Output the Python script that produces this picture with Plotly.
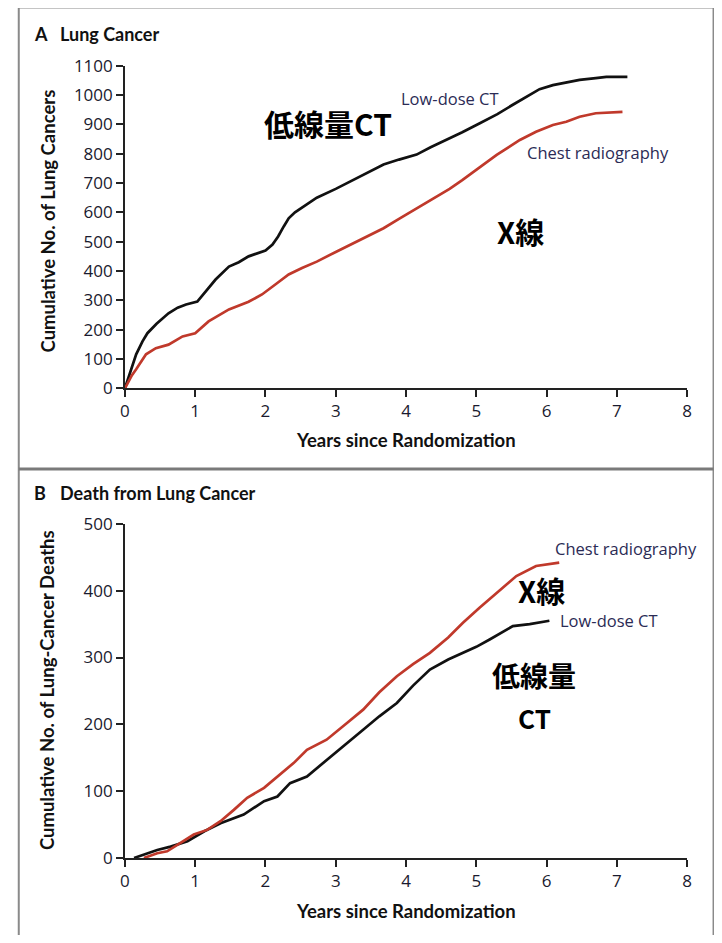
import plotly.graph_objects as go

# page body keeps a default 8px margin, so the figure is 16px smaller than the window
OFF = 8
W, H = 722 - 2 * OFF, 943 - 2 * OFF

# ---------------- data ----------------
years_ct_a = [0, 0.05, 0.1, 0.16, 0.25, 0.32, 0.45, 0.62, 0.75, 0.87, 1.03, 1.15, 1.29, 1.48, 1.62, 1.76, 1.9, 2.0, 2.1,
              2.18, 2.26, 2.33, 2.42, 2.52, 2.73, 3.0, 3.21, 3.45, 3.68, 3.9, 4.15, 4.35, 4.58, 4.8, 5.05, 5.3, 5.52,
              5.76, 5.9, 6.09, 6.3, 6.47, 6.7, 6.85, 7.15]
cases_ct_a = [0, 35, 70, 116, 160, 188, 220, 256, 275, 286, 296, 330, 371, 415, 430, 450, 462, 470, 490,
              518, 552, 580, 600, 616, 650, 680, 705, 735, 763, 780, 797, 822, 848, 873, 904, 935, 967,
              1000, 1020, 1034, 1045, 1052, 1058, 1062, 1062]

years_xr_a = [0, 0.05, 0.1, 0.16, 0.25, 0.3, 0.44, 0.62, 0.82, 1.0, 1.19, 1.48, 1.76, 1.95, 2.14, 2.33, 2.52, 2.73,
              3.0, 3.21, 3.45, 3.68, 3.9, 4.15, 4.4, 4.62, 4.8, 5.0, 5.29, 5.62, 5.85, 6.09, 6.28, 6.47, 6.7, 7.08]
cases_xr_a = [0, 25, 45, 65, 100, 116, 137, 149, 177, 188, 228, 269, 295, 320, 354, 388, 410, 432,
              465, 490, 518, 546, 578, 614, 648, 680, 710, 745, 796, 847, 875, 898, 909, 926, 938, 943]

years_ct_b = [0.13, 0.46, 0.65, 0.89, 1.13, 1.36, 1.69, 1.98, 2.17, 2.35, 2.59, 2.87, 3.16, 3.39, 3.62, 3.87, 4.1,
              4.34, 4.6, 4.81, 5.0, 5.19, 5.52, 5.76, 6.04]
deaths_ct_b = [0, 12, 17, 25, 40, 52, 65, 85, 92, 112, 122, 147, 172, 192, 212, 232, 258,
               282, 297, 307, 316, 327, 347, 350, 355]

years_xr_b = [0.27, 0.46, 0.6, 0.79, 0.98, 1.17, 1.36, 1.55, 1.74, 1.98, 2.17, 2.4, 2.59, 2.87, 3.16, 3.39, 3.62,
              3.87, 4.1, 4.34, 4.6, 4.81, 5.05, 5.29, 5.57, 5.85, 6.18]
deaths_xr_b = [0, 7, 10, 22, 35, 42, 55, 72, 90, 105, 122, 142, 162, 177, 202, 222, 248,
               272, 290, 307, 330, 352, 375, 397, 422, 437, 442]

x_ticks = [0, 1, 2, 3, 4, 5, 6, 7, 8]
y_ticks_a = [0, 100, 200, 300, 400, 500, 600, 700, 800, 900, 1000, 1100]
y_ticks_b = [0, 100, 200, 300, 400, 500]

BLACK = "#111111"
RED = "#c0392b"
NAVY = "#2b2b55"
TICKFONT = dict(family="Open Sans", size=17, color="#1a1a2e")


def px(x):
    page = (x - 4.3) / 0.989
    return (page - OFF) / W


def py(y):
    page = (y - 10.8) / 0.978
    return 1 - (page - OFF) / H


fig = go.Figure()

fig.add_trace(go.Scatter(x=years_ct_a, y=cases_ct_a, mode="lines", line=dict(color=BLACK, width=2.7),
                         xaxis="x", yaxis="y", showlegend=False, cliponaxis=False))
fig.add_trace(go.Scatter(x=years_xr_a, y=cases_xr_a, mode="lines", line=dict(color=RED, width=2.7),
                         xaxis="x", yaxis="y", showlegend=False, cliponaxis=False))
fig.add_trace(go.Scatter(x=years_ct_b, y=deaths_ct_b, mode="lines", line=dict(color=BLACK, width=2.7),
                         xaxis="x2", yaxis="y2", showlegend=False, cliponaxis=False))
fig.add_trace(go.Scatter(x=years_xr_b, y=deaths_xr_b, mode="lines", line=dict(color=RED, width=2.7),
                         xaxis="x2", yaxis="y2", showlegend=False, cliponaxis=False))

axis_common = dict(showgrid=False, zeroline=False, showline=True, linecolor="#222222", linewidth=1.5,
                   ticks="outside", ticklen=7, tickwidth=1.5, tickcolor="#222222", tickfont=TICKFONT)

x_dom = [px(124.5), px(688.5)]
fig.update_layout(
    width=W, height=H, margin=dict(l=0, r=0, t=0, b=0),
    paper_bgcolor="white", plot_bgcolor="white",
    xaxis=dict(domain=x_dom, range=[0, 8], tickvals=x_ticks, anchor="y", **axis_common),
    yaxis=dict(domain=[py(388), py(64.5)], range=[0, 1100], tickvals=y_ticks_a, anchor="x", **axis_common),
    xaxis2=dict(domain=x_dom, range=[0, 8], tickvals=x_ticks, anchor="y2", **axis_common),
    yaxis2=dict(domain=[py(859), py(524)], range=[0, 500], tickvals=y_ticks_b, anchor="x2", **axis_common),
)

ann = []


def text(x, y, s, size, color="#111111", family="Open Sans", bold=False, xanchor="left", angle=0):
    ann.append(dict(x=px(x), y=py(y), xref="paper", yref="paper", text=f"<b>{s}</b>" if bold else s,
                    showarrow=False, xanchor=xanchor, yanchor="middle", textangle=angle, align="center",
                    font=dict(size=size, color=color, family=family)))


# panel titles
text(31, 33, "A", 18, bold=True, family="Lato")
text(57, 33, "Lung Cancer", 18, bold=True, family="Lato")
text(31, 493, "B", 18, bold=True, family="Lato")
text(57, 493, "Death from Lung Cancer", 18, bold=True, family="Lato")

# axis titles
text(406.5, 440, "Years since Randomization", 18.5, bold=True, family="Lato", xanchor="center")
text(406.5, 912, "Years since Randomization", 18.5, bold=True, family="Lato", xanchor="center")
text(47, 220, "Cumulative No. of Lung Cancers", 18.5, bold=True, family="Lato", xanchor="center", angle=-90)
text(47, 691, "Cumulative No. of Lung-Cancer Deaths", 18.5, bold=True, family="Lato", xanchor="center", angle=-90)

# series labels
text(399, 97, "Low-dose CT", 16.5, color=NAVY)
text(526, 152, "Chest radiography", 16.5, color=NAVY)
text(554, 549, "Chest radiography", 16.5, color=NAVY)
text(559, 621, "Low-dose CT", 16.5, color=NAVY)

# Japanese annotations
JP = "Noto Sans CJK JP"
text(262, 122, "低線量CT", 30, color="#000000", family=JP, bold=True)
text(496, 230, "X線", 29, color="#000000", family=JP, bold=True)
text(517, 590, "X線", 29, color="#000000", family=JP, bold=True)
text(535, 676, "低線量", 28, color="#000000", family=JP, bold=True, xanchor="center")
text(535, 718, "CT", 26, color="#000000", family=JP, bold=True, xanchor="center")

fig.update_layout(annotations=ann)

# panel frames
frame = dict(color="#8a8a8a", width=2)
shapes = [
    dict(type="line", xref="paper", yref="paper", x0=px(18), x1=px(18), y0=py(6), y1=py(943), line=frame),
    dict(type="line", xref="paper", yref="paper", x0=px(715), x1=px(715), y0=py(6), y1=py(943), line=frame),
    dict(type="line", xref="paper", yref="paper", x0=px(18), x1=px(715), y0=py(6), y1=py(6), line=frame),
    dict(type="line", xref="paper", yref="paper", x0=px(18), x1=px(715), y0=py(469), y1=py(469),
         line=dict(color="#7a7a7a", width=3)),
]
fig.update_layout(shapes=shapes)

fig.write_html("out.html")
